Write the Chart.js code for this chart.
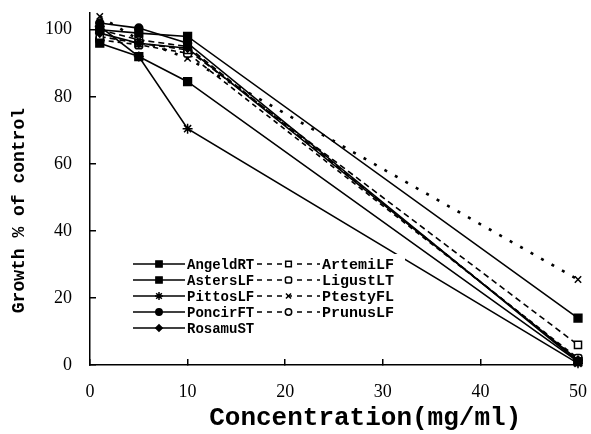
<!DOCTYPE html>
<html>
<head>
<meta charset="utf-8">
<script src="https://cdn.jsdelivr.net/npm/chart.js@4.4.0/dist/chart.umd.min.js"></script>
<style>
  body { margin: 0; background: #fff; }
  #wrap { width: 591px; height: 434px; position: relative; }
</style>
</head>
<body>
<div id="wrap"><canvas id="growth"></canvas></div>
<script>
'use strict';

// concentrations (mg/ml)
let concentration = [1, 5, 10, 50];

let seriesNames = ['AngeldRT', 'AstersLF', 'PittosLF', 'PoncirFT', 'RosamuST',
    'ArtemiLF', 'LigustLT', 'PtestyFL', 'PrunusLF'];

// growth % of control
let angeldRT = [100, 99, 98, 14];
let astersLF = [96, 92, 84.5, 1];
let pittosLF = [101, 92, 70.5, 0.5];
let poncirFT = [102, 100.5, 96, 1];
let rosamuST = [99, 96, 94.5, 1.5];
let artemiLF = [98, 96, 94, 6];
let ligustLT = [97, 95.5, 93, 2];
let ptestyFL = [104, 97, 91.5, 25.5];
let prunusLF = [100, 97, 95, 1.5];

let xTicks = [0, 10, 20, 30, 40, 50];
let yTicks = [0, 20, 40, 60, 80, 100];

let allValues = [angeldRT, astersLF, pittosLF, poncirFT, rosamuST,
    artemiLF, ligustLT, ptestyFL, prunusLF];

let markers = ['rect', 'rect', 'star', 'circle', 'rectRot', 'rect', 'rectRounded', 'crossRot', 'circle'];
let markerSize = [5.5, 5.5, 5, 4, 4, 5, 4.5, 4.5, 4];
let filled = [true, true, true, true, true, false, false, true, false];
let dashes = [[], [], [], [], [], [6, 4], [5, 4], [3, 9], [6, 4]];

function makeSet(i) {
    let values = allValues[i];
    let points = [];
    for (let k = 0; k < concentration.length; k++) {
        points.push({ x: concentration[k], y: values[k] });
    }
    return {
        label: seriesNames[i],
        data: points,
        borderColor: '#000',
        backgroundColor: filled[i] ? '#000' : '#fff',
        borderWidth: i === 7 ? 2.6 : 1.6,
        borderDash: dashes[i],
        pointStyle: markers[i],
        pointRadius: markerSize[i],
        pointBorderWidth: 1.5,
        pointBorderColor: '#000',
        pointBackgroundColor: filled[i] ? '#000' : '#fff',
        tension: 0,
        clip: false
    };
}

let datasets = [];
for (let i = 0; i < seriesNames.length; i++) {
    datasets.push(makeSet(i));
}

// legend drawn inside the plot with a white box, two columns
const boxLegend = {
    id: 'boxLegend',
    afterDatasetsDraw(chart) {
        const ctx = chart.ctx;
        ctx.save();
        ctx.fillStyle = '#fff';
        ctx.fillRect(128, 254, 277, 84);
        ctx.textBaseline = 'middle';
        chart.data.datasets.forEach(function (ds, i) {
            let col = i < 5 ? 0 : 1;
            let row = col ? i - 5 : i;
            let y = 264 + row * 16;
            let x0 = col ? 257 : 133;
            let x1 = col ? 320 : 185;
            ctx.strokeStyle = '#000';
            ctx.lineWidth = 1.5;
            ctx.setLineDash(col ? [5, 5] : []);
            ctx.beginPath();
            ctx.moveTo(x0, y);
            ctx.lineTo(x1, y);
            ctx.stroke();
            ctx.setLineDash([]);
            ctx.fillStyle = ds.pointBackgroundColor;
            if (Chart.helpers && Chart.helpers.drawPoint) {
                Chart.helpers.drawPoint(ctx, {
                    pointStyle: ds.pointStyle,
                    radius: ds.pointRadius * 0.8,
                    borderWidth: 1.3,
                    rotation: 0
                }, (x0 + x1) / 2, y);
            }
            ctx.fillStyle = '#000';
            ctx.font = col ? 'bold 15px "Liberation Mono"' : 'bold 14px "Liberation Mono"';
            ctx.fillText(ds.label, x1 + 2, y + 1);
        });
        ctx.restore();
    }
};

const config = {
    type: 'line',
    data: { datasets },
    plugins: [boxLegend],
    options: {
        responsive: true,
        maintainAspectRatio: false,
        animation: false,
        devicePixelRatio: 1,
        layout: { padding: { top: 13, right: 13, left: 0, bottom: 0 } },
        plugins: {
            legend: { display: false },
            tooltip: { enabled: false }
        },
        scales: {
            x: {
                type: 'linear',
                min: 0,
                max: 50,
                afterBuildTicks(scale) {
                    scale.ticks = xTicks.map(v => ({ value: v }));
                },
                afterFit(scale) {
                    scale.height = 69;
                    scale.paddingLeft = 0;
                    scale.paddingRight = 0;
                },
                ticks: {
                    color: '#000',
                    font: { family: 'Liberation Serif', size: 18 },
                    padding: 22,
                    maxRotation: 0
                },
                grid: {
                    drawOnChartArea: false,
                    drawTicks: true,
                    tickLength: -6,
                    color: '#000',
                    lineWidth: 1.5
                },
                border: { color: '#000', width: 1.5 },
                title: {
                    display: true,
                    text: '    Concentration(mg/ml)',
                    color: '#000',
                    font: { family: 'Liberation Mono', size: 26, weight: 'bold' },
                    padding: { top: 0, bottom: 0 }
                }
            },
            y: {
                min: 0,
                max: 105,
                afterBuildTicks(scale) {
                    scale.ticks = yTicks.map(v => ({ value: v }));
                },
                afterFit(scale) {
                    scale.width = 90;
                    scale.paddingTop = 0;
                    scale.paddingBottom = 0;
                },
                ticks: {
                    color: '#000',
                    font: { family: 'Liberation Serif', size: 18 },
                    padding: 24
                },
                grid: {
                    drawOnChartArea: false,
                    drawTicks: true,
                    tickLength: -6,
                    color: '#000',
                    lineWidth: 1.5
                },
                border: { color: '#000', width: 1.5 },
                title: {
                    display: true,
                    text: 'Growth % of control    ',
                    color: '#000',
                    font: { family: 'Liberation Mono', size: 18, weight: 'bold' },
                    padding: { top: 9, bottom: 0 }
                }
            }
        }
    }
};

new Chart(document.getElementById('growth'), config);
</script>
</body>
</html>
